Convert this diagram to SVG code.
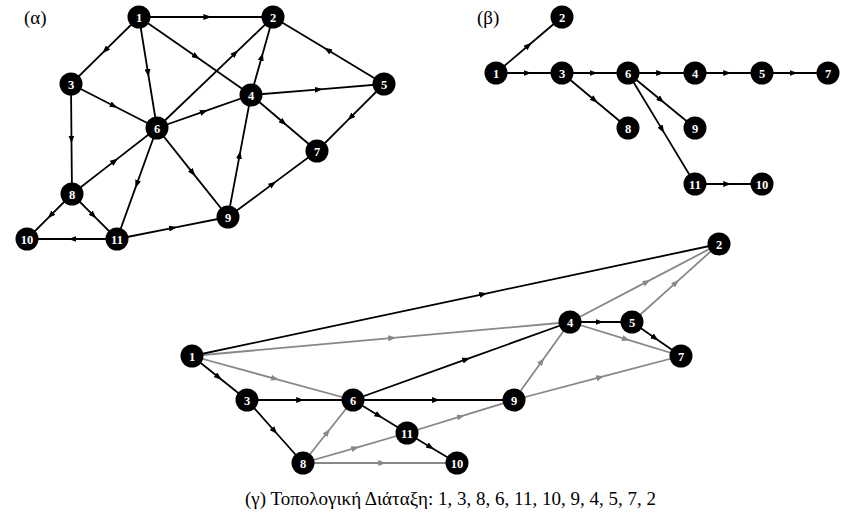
<svg xmlns="http://www.w3.org/2000/svg" width="845" height="520" viewBox="0 0 845 520">
<style>
.e{fill:none;stroke:#000;stroke-width:1.8;marker-mid:url(#ab)}
.g{fill:none;stroke:#888;stroke-width:1.8;marker-mid:url(#ag)}
.n circle{fill:#000}
.n text{fill:#fff;font-family:"Liberation Serif","Times New Roman",serif;font-weight:bold;font-size:12.5px;text-anchor:middle}
.lbl{font-family:"Liberation Serif","Times New Roman",serif;font-size:19px;fill:#000}
.cap{font-family:"Liberation Serif","Times New Roman",serif;font-size:19px;fill:#000}
</style>
<defs>
<marker id="ab" viewBox="0 0 8 6" refX="8" refY="3" markerWidth="8" markerHeight="6" markerUnits="userSpaceOnUse" orient="auto"><path d="M0,0 L8,3 L0,6 z" fill="#000"/></marker>
<marker id="ag" viewBox="0 0 8 6" refX="8" refY="3" markerWidth="8" markerHeight="6" markerUnits="userSpaceOnUse" orient="auto"><path d="M0,0 L8,3 L0,6 z" fill="#888"/></marker>
</defs>
<rect width="845" height="520" fill="#fff"/>
<text class="lbl" x="24" y="24">(α)</text>
<text class="lbl" x="477" y="24">(β)</text>
<g id="connectors">
<!-- alpha -->
<path class="e" d="M139,17 L211.4,17 L273,17"/>
<path class="e" d="M139,17 L102.3,53.2 L71,84"/>
<path class="e" d="M139,17 L148.7,77 L157,128"/>
<path class="e" d="M139,17 L199.5,59.1 L251,95"/>
<path class="e" d="M157,128 L238.2,50.3 L273,17"/>
<path class="e" d="M251,95 L262.9,52.9 L273,17"/>
<path class="e" d="M384,84 L324.1,47.8 L273,17"/>
<path class="e" d="M71,84 L117.4,107.8 L157,128"/>
<path class="e" d="M71,84 L71.5,143.4 L72,194"/>
<path class="e" d="M157,128 L207.8,110.2 L251,95"/>
<path class="e" d="M251,95 L322.8,89.1 L384,84"/>
<path class="e" d="M251,95 L286.6,125.2 L317,151"/>
<path class="e" d="M384,84 L347.8,120.2 L317,151"/>
<path class="e" d="M157,128 L195.3,176.1 L228,217"/>
<path class="e" d="M228,217 L240.4,151.1 L251,95"/>
<path class="e" d="M228,217 L276.1,181.4 L317,151"/>
<path class="e" d="M72,194 L117.9,158.4 L157,128"/>
<path class="e" d="M157,128 L135.4,187.9 L117,239"/>
<path class="e" d="M72,194 L47.7,218.3 L27,239"/>
<path class="e" d="M72,194 L96.3,218.3 L117,239"/>
<path class="e" d="M117,239 L68.4,239 L27,239"/>
<path class="e" d="M117,239 L176.9,227.1 L228,217"/>
<!-- beta -->
<path class="e" d="M496,73 L531.6,42.8 L562,17"/>
<path class="e" d="M496,73 L531.6,73 L562,73"/>
<path class="e" d="M562,73 L597.6,73 L628,73"/>
<path class="e" d="M628,73 L664.2,73 L695,73"/>
<path class="e" d="M695,73 L731.2,73 L762,73"/>
<path class="e" d="M762,73 L797.6,73 L828,73"/>
<path class="e" d="M562,73 L597.6,102.7 L628,128"/>
<path class="e" d="M628,73 L664.2,102.7 L695,128"/>
<path class="e" d="M628,73 L664.2,132.9 L695,184"/>
<path class="e" d="M695,184 L731.2,184 L762,184"/>
<!-- gamma -->
<path class="g" d="M192,356 L396.1,337.6 L570,322"/>
<path class="g" d="M192,356 L278.9,379.8 L353,400"/>
<path class="g" d="M303,463 L330,429 L353,400"/>
<path class="g" d="M303,463 L359.2,446.8 L407,433"/>
<path class="g" d="M303,463 L386.2,463 L457,463"/>
<path class="g" d="M407,433 L464.8,415.2 L514,400"/>
<path class="g" d="M514,400 L544.2,357.9 L570,322"/>
<path class="g" d="M514,400 L604.2,376.2 L681,356"/>
<path class="g" d="M570,322 L650.5,279.9 L719,244"/>
<path class="g" d="M570,322 L629.9,340.4 L681,356"/>
<path class="g" d="M632,322 L679,279.9 L719,244"/>
<path class="e" d="M192,356 L487.1,293.3 L719,244"/>
<path class="e" d="M192,356 L221.7,379.8 L247,400"/>
<path class="e" d="M247,400 L304.2,400 L353,400"/>
<path class="e" d="M247,400 L277.2,434 L303,463"/>
<path class="e" d="M353,400 L470.2,357.9 L570,322"/>
<path class="e" d="M353,400 L439.9,400 L514,400"/>
<path class="e" d="M353,400 L382.2,417.8 L407,433"/>
<path class="e" d="M407,433 L434,449.2 L457,463"/>
<path class="e" d="M570,322 L603.5,322 L632,322"/>
<path class="e" d="M632,322 L658.5,340.4 L681,356"/>
</g>
<!-- alpha nodes -->
<g id="a1" class="n"><circle cx="139" cy="17" r="11.5"/><text x="139" y="21.5">1</text></g>
<g id="a2" class="n"><circle cx="273" cy="17" r="11.5"/><text x="273" y="21.5">2</text></g>
<g id="a3" class="n"><circle cx="71" cy="84" r="11.5"/><text x="71" y="88.5">3</text></g>
<g id="a4" class="n"><circle cx="251" cy="95" r="11.5"/><text x="251" y="99.5">4</text></g>
<g id="a5" class="n"><circle cx="384" cy="84" r="11.5"/><text x="384" y="88.5">5</text></g>
<g id="a6" class="n"><circle cx="157" cy="128" r="11.5"/><text x="157" y="132.5">6</text></g>
<g id="a7" class="n"><circle cx="317" cy="151" r="11.5"/><text x="317" y="155.5">7</text></g>
<g id="a8" class="n"><circle cx="72" cy="194" r="11.5"/><text x="72" y="198.5">8</text></g>
<g id="a9" class="n"><circle cx="228" cy="217" r="11.5"/><text x="228" y="221.5">9</text></g>
<g id="a10" class="n"><circle cx="27" cy="239" r="11.5"/><text x="27" y="243.5">10</text></g>
<g id="a11" class="n"><circle cx="117" cy="239" r="11.5"/><text x="117" y="243.5">11</text></g>
<!-- beta nodes -->
<g id="b1" class="n"><circle cx="496" cy="73" r="11.5"/><text x="496" y="77.5">1</text></g>
<g id="b2" class="n"><circle cx="562" cy="17" r="11.5"/><text x="562" y="21.5">2</text></g>
<g id="b3" class="n"><circle cx="562" cy="73" r="11.5"/><text x="562" y="77.5">3</text></g>
<g id="b6" class="n"><circle cx="628" cy="73" r="11.5"/><text x="628" y="77.5">6</text></g>
<g id="b4" class="n"><circle cx="695" cy="73" r="11.5"/><text x="695" y="77.5">4</text></g>
<g id="b5" class="n"><circle cx="762" cy="73" r="11.5"/><text x="762" y="77.5">5</text></g>
<g id="b7" class="n"><circle cx="828" cy="73" r="11.5"/><text x="828" y="77.5">7</text></g>
<g id="b8" class="n"><circle cx="628" cy="128" r="11.5"/><text x="628" y="132.5">8</text></g>
<g id="b9" class="n"><circle cx="695" cy="128" r="11.5"/><text x="695" y="132.5">9</text></g>
<g id="b11" class="n"><circle cx="695" cy="184" r="11.5"/><text x="695" y="188.5">11</text></g>
<g id="b10" class="n"><circle cx="762" cy="184" r="11.5"/><text x="762" y="188.5">10</text></g>
<!-- gamma nodes -->
<g id="g1" class="n"><circle cx="192" cy="356" r="11.5"/><text x="192" y="360.5">1</text></g>
<g id="g2" class="n"><circle cx="719" cy="244" r="11.5"/><text x="719" y="248.5">2</text></g>
<g id="g3" class="n"><circle cx="247" cy="400" r="11.5"/><text x="247" y="404.5">3</text></g>
<g id="g4" class="n"><circle cx="570" cy="322" r="11.5"/><text x="570" y="326.5">4</text></g>
<g id="g5" class="n"><circle cx="632" cy="322" r="11.5"/><text x="632" y="326.5">5</text></g>
<g id="g6" class="n"><circle cx="353" cy="400" r="11.5"/><text x="353" y="404.5">6</text></g>
<g id="g7" class="n"><circle cx="681" cy="356" r="11.5"/><text x="681" y="360.5">7</text></g>
<g id="g8" class="n"><circle cx="303" cy="463" r="11.5"/><text x="303" y="467.5">8</text></g>
<g id="g9" class="n"><circle cx="514" cy="400" r="11.5"/><text x="514" y="404.5">9</text></g>
<g id="g10" class="n"><circle cx="457" cy="463" r="11.5"/><text x="457" y="467.5">10</text></g>
<g id="g11" class="n"><circle cx="407" cy="433" r="11.5"/><text x="407" y="437.5">11</text></g>
<text class="cap" x="245" y="505">(γ) Τοπολογική Διάταξη: 1, 3, 8, 6, 11, 10, 9, 4, 5, 7, 2</text>
</svg>
